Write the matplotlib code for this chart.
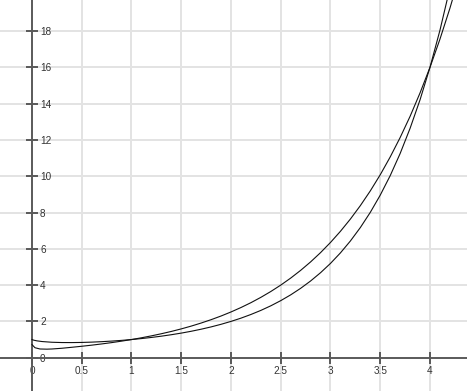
import matplotlib
matplotlib.use("Agg")
import matplotlib.pyplot as plt

# Curve that starts at 1 (dips, then lower one for x>1)
xa = [0.0, 0.02, 0.05, 0.1, 0.2, 0.3, 0.4, 0.5, 0.6, 0.7, 0.8, 0.9, 1.0,
      1.1, 1.2, 1.3, 1.4, 1.5, 1.6, 1.7, 1.8, 1.9, 2.0, 2.1, 2.2, 2.3, 2.4,
      2.5, 2.6, 2.7, 2.8, 2.9, 3.0, 3.1, 3.2, 3.3, 3.4, 3.5, 3.6, 3.7, 3.8,
      3.9, 4.0, 4.1, 4.2]
ya = [1.0, 0.962, 0.928, 0.891, 0.851, 0.835, 0.833, 0.841, 0.858, 0.883,
      0.915, 0.954, 1.0, 1.054, 1.116, 1.186, 1.266, 1.355, 1.456, 1.570,
      1.697, 1.840, 2.0, 2.179, 2.381, 2.606, 2.859, 3.144, 3.463, 3.823,
      4.227, 4.683, 5.196, 5.776, 6.431, 7.171, 8.008, 8.957, 10.03, 11.25,
      12.64, 14.21, 16.0, 18.04, 20.36]

# Curve that starts low (upper one for 1<x<4)
xb = [0.0, 0.03, 0.08, 0.15, 0.2, 0.3, 0.4, 0.5, 0.6, 0.7, 0.8, 0.9, 1.0,
      1.1, 1.2, 1.3, 1.4, 1.5, 1.6, 1.7, 1.8, 1.9, 2.0, 2.1, 2.2, 2.3, 2.4,
      2.5, 2.6, 2.7, 2.8, 2.9, 3.0, 3.1, 3.2, 3.3, 3.4, 3.5, 3.6, 3.7, 3.8,
      3.9, 4.0, 4.1, 4.2, 4.3]
yb = [0.72, 0.55, 0.48, 0.47, 0.48, 0.52, 0.574, 0.630, 0.691, 0.758,
      0.831, 0.912, 1.0, 1.097, 1.203, 1.320, 1.447, 1.587, 1.741, 1.910,
      2.095, 2.297, 2.520, 2.764, 3.031, 3.325, 3.647, 4.000, 4.387, 4.812,
      5.278, 5.789, 6.350, 6.965, 7.639, 8.379, 9.190, 10.08, 11.06, 12.13,
      13.30, 14.59, 16.0, 17.55, 19.25, 21.11]

xticks = [0, 0.5, 1, 1.5, 2, 2.5, 3, 3.5, 4]
xticklabels = ["0", "0.5", "1", "1.5", "2", "2.5", "3", "3.5", "4"]
yticks = [0, 2, 4, 6, 8, 10, 12, 14, 16, 18]
yticklabels = ["0", "2", "4", "6", "8", "10", "12", "14", "16", "18"]

plt.rcParams['font.family'] = ['Liberation Sans', 'DejaVu Sans']

fig = plt.figure(figsize=(4.67, 3.91), dpi=100)
ax = fig.add_axes([0, 0, 1, 1])
ax.set_xlim(-0.3216, 4.372)
ax.set_ylim(-1.835, 19.71)

# grid
for gx in xticks[1:]:
    ax.axvline(gx, color="#e3e3e3", lw=1.4, zorder=0)
for gy in yticks[1:]:
    ax.axhline(gy, color="#e3e3e3", lw=1.4, zorder=0)

# curves
ax.plot(xa, ya, color="#111111", lw=0.8, zorder=3)
ax.plot(xb, yb, color="#111111", lw=0.8, zorder=3)

# spines through origin
for s in ["top", "left"]:
    ax.spines[s].set_visible(False)
ax.spines["right"].set_position(("data", 0))
ax.spines["bottom"].set_position(("data", 0))
ax.spines["right"].set_color("#5a5a5a")
ax.spines["bottom"].set_color("#5a5a5a")
ax.spines["right"].set_linewidth(1.4)
ax.spines["bottom"].set_linewidth(1.4)
ax.spines["right"].set_zorder(2)
ax.spines["bottom"].set_zorder(2)

ax.yaxis.set_ticks_position("right")
ax.xaxis.set_ticks_position("bottom")
ax.set_xticks(xticks)
ax.set_xticklabels(xticklabels)
ax.set_yticks(yticks)
ax.set_yticklabels(yticklabels)
ax.tick_params(axis="both", direction="inout", length=8.6, width=1.1,
               color="#333333", labelsize=7.2, labelcolor="#333333", pad=1.5)

fig.savefig("out.png", dpi=100)
